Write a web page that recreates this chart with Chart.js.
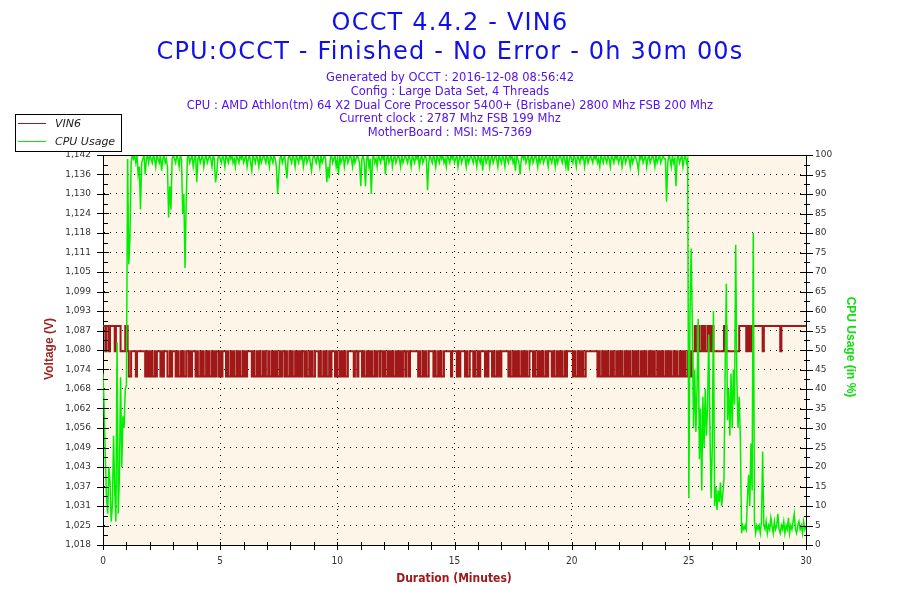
<!DOCTYPE html>
<html>
<head>
<meta charset="utf-8">
<script src="https://cdn.jsdelivr.net/npm/chart.js@4.4.0/dist/chart.umd.min.js"></script>
<style>
html,body{margin:0;padding:0;background:#fff;}
#wrap{position:relative;width:900px;height:600px;}
</style>
</head>
<body>
<div id="wrap"><canvas id="c"></canvas></div>
<script>
// ---------- texts ----------
const titleLines = ["OCCT 4.4.2 - VIN6", "CPU:OCCT - Finished - No Error - 0h 30m 00s"];
const infoLines = [
  "Generated by OCCT : 2016-12-08 08:56:42",
  "Config : Large Data Set, 4 Threads",
  "CPU : AMD Athlon(tm) 64 X2 Dual Core Processor 5400+ (Brisbane) 2800 Mhz FSB 200 Mhz",
  "Current clock : 2787 Mhz FSB 199 Mhz",
  "MotherBoard : MSI: MS-7369"
];
const seriesNames = ["VIN6", "CPU Usage"];
const axisTitles = {x: "Duration (Minutes)", y: "Voltage (V)", y1: "CPU Usage (in %)"};

// ---------- axes ----------
const durationRange = [0, 30];      // minutes
const durationStep = 1;
const durationLabelEvery = 5;
const voltRange = [1.0184, 1.1424];
const voltStep = 0.0062;
const cpuRange = [0, 100];
const cpuStep = 5;

// ---------- data (one sample every 0.05 minute, one row per minute) ----------
const sampleMinutes = 0.05;
const vinLevels = [1.072, 1.080, 1.088];
const vinCodes = [
  2,2,1,2,2,1,2,2,2,2,1,2,2,2,2,1,1,1,1,2,
  2,1,0,0,1,1,1,1,0,1,1,1,1,1,1,1,0,1,0,1,
  0,1,0,0,1,0,1,1,1,0,1,0,1,1,1,0,0,1,0,1,
  1,1,0,1,0,0,1,0,1,0,0,1,1,0,1,0,1,1,1,0,
  1,0,0,1,0,1,0,0,1,0,1,0,0,1,0,1,0,1,1,0,
  1,0,1,1,1,0,1,0,0,1,0,1,0,0,1,0,1,0,0,1,
  0,1,0,1,1,1,1,0,1,0,0,1,0,1,0,0,1,0,1,0,
  0,1,0,0,1,0,1,0,1,0,0,1,0,1,1,0,1,0,0,1,
  0,1,0,0,1,0,1,0,1,0,1,1,0,1,0,0,1,0,1,0,
  0,1,1,1,0,1,0,0,1,0,1,0,0,1,0,1,1,1,0,1,
  0,0,1,0,1,0,1,0,0,1,1,1,1,1,0,1,1,0,1,1,
  1,0,1,0,0,1,0,1,0,1,0,0,1,0,1,1,0,1,1,0,
  1,0,0,1,0,1,0,1,0,0,1,0,1,0,1,0,1,1,0,1,
  1,0,1,1,1,1,1,1,1,0,1,0,0,1,0,1,0,0,1,1,
  1,1,0,1,0,0,1,0,1,0,0,1,1,1,1,1,1,0,1,1,
  1,1,0,1,0,1,1,1,1,0,1,0,0,1,1,1,0,1,0,0,
  1,0,1,1,1,1,0,1,0,1,1,1,0,1,0,0,1,0,1,0,
  1,1,1,1,1,1,0,1,0,0,1,0,1,0,1,0,0,1,0,1,
  0,1,0,0,1,1,1,0,1,0,0,1,0,1,0,1,0,0,1,0,
  1,1,1,0,1,0,0,1,0,1,0,1,0,0,1,0,1,1,1,1,
  1,0,1,0,0,1,0,1,0,1,0,0,1,1,1,1,1,1,1,1,
  1,1,0,1,0,0,1,0,1,0,1,0,0,1,0,1,0,0,1,0,
  1,0,1,0,0,1,0,1,0,1,0,0,1,0,1,0,1,0,0,1,
  0,1,0,1,0,0,1,0,1,0,1,0,0,1,0,1,0,1,0,0,
  1,0,1,0,1,0,0,1,0,1,0,0,1,0,1,0,1,0,0,1,
  0,1,0,1,1,2,1,1,2,1,1,2,1,2,1,1,2,1,2,1,
  2,1,1,1,1,1,1,1,1,1,2,2,1,1,1,1,1,1,1,1,
  1,1,1,2,2,2,2,2,2,1,2,1,2,1,2,2,2,2,2,2,
  2,2,2,1,2,2,2,2,2,2,2,2,2,2,2,2,2,2,1,2,
  2,2,2,2,2,2,2,2,2,2,2,2,2,2,2,2,2,2,2,2,
  2
];
const cpuUsage = [
  44,35,22,12,8,20,16,6,10,28,14,6,52,8,18,43,20,33,30,40,
  41,99,72,79,98,100,99,100,98,100,95,97,86,98,99,100,95,99,100,98,
  100,99,98,100,99,97,100,99,98,100,96,99,100,98,99,97,84,92,86,99,
  100,99,98,100,99,97,100,99,85,90,71,88,99,100,98,99,100,97,99,100,
  93,99,100,98,99,100,97,99,100,98,99,100,99,97,100,99,93,95,99,100,
  99,98,100,99,97,100,99,98,100,99,100,98,99,97,100,99,98,100,99,100,
  98,99,100,97,99,100,98,96,100,99,98,100,99,97,100,98,99,100,99,98,
  100,99,97,100,99,98,100,99,97,90,95,99,100,98,99,100,97,94,99,100,
  99,98,100,99,97,100,99,98,100,99,100,97,99,100,98,99,100,98,96,99,
  100,99,98,100,99,97,100,98,99,100,99,93,97,94,99,100,98,99,100,97,
  99,95,100,98,99,100,97,99,100,98,99,100,99,97,100,98,99,100,99,98,
  92,99,100,98,92,99,100,97,99,90,99,100,98,99,97,100,99,98,100,99,
  100,95,99,100,98,99,100,97,99,100,98,99,100,99,97,100,98,99,100,99,
  98,100,99,97,100,99,98,100,99,100,97,99,100,98,99,100,99,91,98,100,
  99,98,100,99,97,100,99,98,100,99,100,98,99,97,100,99,98,100,99,100,
  98,99,100,97,99,100,98,99,100,99,97,100,98,99,100,99,98,100,99,97,
  100,99,98,100,96,99,100,98,99,100,97,99,100,98,99,100,99,97,100,99,
  98,100,99,97,100,99,98,100,99,100,98,99,96,100,99,98,95,99,100,99,
  100,98,99,100,97,99,100,98,99,100,99,97,100,98,99,100,98,99,100,99,
  97,100,99,98,100,99,97,100,98,99,100,99,98,100,99,97,100,96,99,100,
  99,98,100,99,97,100,99,98,100,99,100,97,99,100,98,99,100,99,98,100,
  99,100,98,99,97,100,99,98,100,99,98,100,99,97,100,99,98,100,99,100,
  98,99,100,97,99,100,98,99,100,99,97,100,98,99,100,99,98,96,100,99,
  100,98,99,100,97,99,100,98,99,100,99,97,100,98,99,100,98,99,100,99,
  99,88,98,100,99,97,100,98,99,92,99,100,98,99,100,97,99,100,98,99,
  12,60,76,55,30,45,29,40,58,22,35,14,38,25,40,28,36,54,30,12,
  25,60,10,15,9,14,11,16,10,13,17,45,67,32,40,28,44,30,45,36,
  77,42,30,38,27,3,5,4,5,4,12,18,10,26,14,80,6,3,5,4,
  5,3,6,24,5,4,6,3,5,4,7,5,3,6,4,5,8,4,3,5,
  4,6,3,5,4,7,3,5,4,6,8,4,3,5,6,4,5,3,6,4,
  5
];

// ---------- colours ----------
const vinColor = "#a01818";
const cpuColor = "#00ee00";

const vinPoints = vinCodes.map((c, i) => ({x: i * sampleMinutes, y: vinLevels[c]}));
const cpuPoints = cpuUsage.map((v, i) => ({x: i * sampleMinutes, y: v}));

const tickFont = {family: "DejaVu Sans", size: 9};

const decor = {
  id: "occtDecor",
  beforeDraw(chart) {
    const {ctx, chartArea: a} = chart;
    ctx.save();
    ctx.fillStyle = "#fdf6e8";
    ctx.fillRect(a.left, a.top, a.right - a.left, a.bottom - a.top);
    ctx.restore();
  },
  afterDraw(chart) {
    const {ctx, chartArea: a, scales} = chart;
    const line = (x1, y1, x2, y2) => { ctx.beginPath(); ctx.moveTo(x1, y1); ctx.lineTo(x2, y2); ctx.stroke(); };
    const px = v => Math.round(v) + 0.5;
    ctx.save();
    ctx.strokeStyle = "#000";
    ctx.lineWidth = 1;
    // top border
    line(a.left, px(a.top), a.right, px(a.top));
    // x ticks
    scales.x.ticks.forEach(t => {
      const x = px(scales.x.getPixelForValue(t.value));
      line(x, a.bottom - 3, x, a.bottom + 5);
    });
    // left ticks
    const yt = scales.y.ticks;
    yt.forEach((t, i) => {
      const y = px(scales.y.getPixelForValue(t.value));
      line(a.left - 6, y, a.left + 6, y);
      if (i < yt.length - 1) {
        const m = px(scales.y.getPixelForValue((t.value + yt[i + 1].value) / 2));
        line(a.left, m, a.left + 5, m);
      }
    });
    // right ticks
    const rt = scales.y1.ticks;
    rt.forEach((t, i) => {
      const y = px(scales.y1.getPixelForValue(t.value));
      line(a.right - 6, y, a.right + 7, y);
      if (i < rt.length - 1) {
        const m = px(scales.y1.getPixelForValue((t.value + rt[i + 1].value) / 2));
        line(a.right - 2, m, a.right + 4, m);
      }
    });

    // legend box
    ctx.fillStyle = "#fff";
    ctx.fillRect(15.5, 114.5, 106, 37);
    ctx.strokeRect(15.5, 114.5, 106, 37);
    const legY = [123, 141];
    chart.data.datasets.forEach((ds, i) => {
      ctx.strokeStyle = ds.borderColor;
      ctx.lineWidth = 1;
      line(18, legY[i] + 0.5, 46, legY[i] + 0.5);
      ctx.fillStyle = "#222";
      ctx.font = "italic 11px 'DejaVu Sans'";
      ctx.textAlign = "left";
      ctx.textBaseline = "middle";
      ctx.fillText(ds.label, 55, legY[i] + 1);
    });

    // titles
    ctx.textAlign = "center";
    ctx.textBaseline = "alphabetic";
    ctx.fillStyle = "#1010e8";
    ctx.font = "24px 'DejaVu Sans'";
    try { ctx.letterSpacing = "1.2px"; } catch (e) {}
    ctx.fillText(titleLines[0], 450, 30);
    ctx.fillText(titleLines[1], 450, 59);
    try { ctx.letterSpacing = "0px"; } catch (e) {}
    ctx.fillStyle = "#5514ee";
    ctx.font = "11.5px 'DejaVu Sans'";
    const infoY = [81, 94.5, 108.5, 122, 136];
    infoLines.forEach((s, i) => ctx.fillText(s, 450, infoY[i]));

    // axis titles
    ctx.font = "bold 12px 'Liberation Sans'";
    ctx.textBaseline = "middle";
    ctx.fillStyle = "#a02424";
    ctx.save();
    ctx.translate(50, 349);
    ctx.rotate(-Math.PI / 2);
    ctx.fillText(axisTitles.y, 0, 0);
    ctx.restore();
    ctx.fillStyle = "#11dd11";
    ctx.save();
    ctx.translate(850, 347);
    ctx.rotate(Math.PI / 2);
    ctx.fillText(axisTitles.y1, 0, 0);
    ctx.restore();
    ctx.fillStyle = "#a01818";
    ctx.font = "bold 12px 'DejaVu Sans Condensed', 'DejaVu Sans'";
    ctx.fillText(axisTitles.x, 454, 579);
    ctx.restore();
  }
};

new Chart(document.getElementById("c"), {
  type: "line",
  data: {
    datasets: [
      {label: seriesNames[0], data: vinPoints, yAxisID: "y", borderColor: vinColor, borderWidth: 2, stepped: true, pointRadius: 0, order: 2},
      {label: seriesNames[1], data: cpuPoints, yAxisID: "y1", borderColor: cpuColor, borderWidth: 1.5, pointRadius: 0, order: 1, tension: 0}
    ]
  },
  options: {
    responsive: true,
    maintainAspectRatio: false,
    animation: false,
    events: [],
    layout: {padding: {top: 155, left: 0, right: 0, bottom: 0}},
    plugins: {legend: {display: false}, title: {display: false}, tooltip: {enabled: false}},
    scales: {
      x: {
        type: "linear", min: durationRange[0], max: durationRange[1],
        ticks: {stepSize: durationStep, autoSkip: false, maxRotation: 0, padding: 10, color: "#333",
          font: {family: "DejaVu Sans Condensed, DejaVu Sans", size: 10},
          callback: v => (v % durationLabelEvery === 0 ? String(v) : "")},
        grid: {drawTicks: false, lineWidth: 1,
          color: c => (c.tick && c.tick.value % durationLabelEvery === 0 && c.tick.value > durationRange[0] && c.tick.value < durationRange[1]) ? "#000" : "rgba(0,0,0,0)"},
        border: {color: "#000", width: 1, dash: [1, 5]},
        afterFit: s => { s.height = 55; }
      },
      y: {
        type: "linear", position: "left", min: voltRange[0], max: voltRange[1],
        ticks: {stepSize: voltStep, padding: 12, color: "#333", font: tickFont,
          callback: v => v.toFixed(3).replace(".", ",")},
        grid: {drawTicks: false, lineWidth: 1,
          color: c => (c.tick && c.tick.value > voltRange[0] + 1e-9 && c.tick.value < voltRange[1] - 1e-9) ? "#000" : "rgba(0,0,0,0)"},
        border: {color: "#000", width: 1, dash: [1, 5]},
        afterFit: s => { s.width = 103; }
      },
      y1: {
        type: "linear", position: "right", min: cpuRange[0], max: cpuRange[1],
        ticks: {stepSize: cpuStep, padding: 9, color: "#333", font: tickFont},
        grid: {drawTicks: false, drawOnChartArea: false},
        border: {color: "#000", width: 1},
        afterFit: s => { s.width = 94; }
      }
    }
  },
  plugins: [decor]
});
</script>
</body>
</html>
